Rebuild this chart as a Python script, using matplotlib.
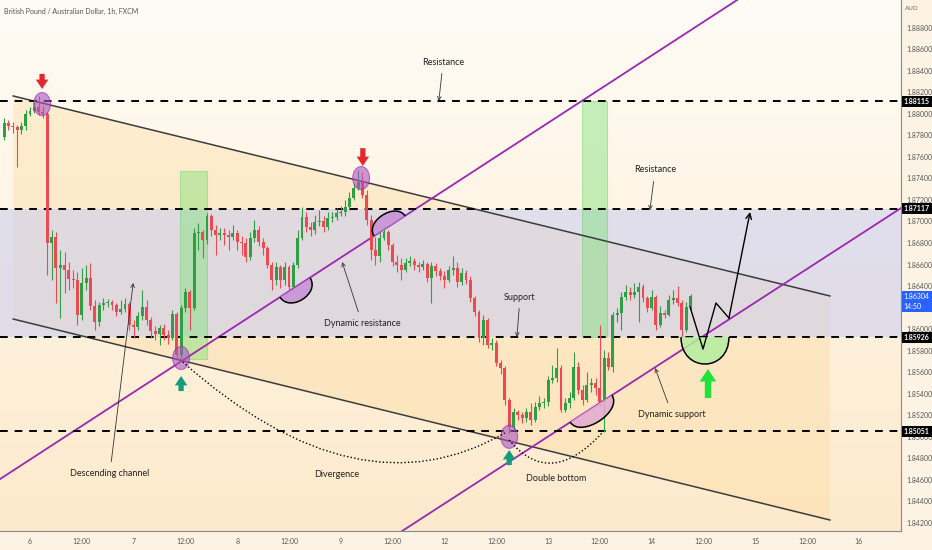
import numpy as np
import matplotlib.pyplot as plt
import matplotlib.transforms as mtransforms
from matplotlib.colors import LinearSegmentedColormap
from matplotlib.patches import Ellipse, Rectangle, Polygon, PathPatch
from matplotlib.path import Path

plt.rcParams['font.family'] = ['Lato', 'DejaVu Sans']

# ---- data (1h candles, bar 0 = day 6 00:00) ----
first_bar = -6
first_open = 1.87784
closes = [1.87914, 1.87886, 1.87877, 1.87849, 1.87886, 1.87998, 1.88025, 1.88063, 1.88016, 1.87998,
          1.86800, 1.86856, 1.86568, 1.86596, 1.86549, 1.86466, 1.86456, 1.86132, 1.86429, 1.86475,
          1.86215, 1.86067, 1.86225, 1.86243, 1.86252, 1.86225, 1.86160, 1.86187, 1.86234, 1.86039,
          1.86020, 1.86122, 1.86206, 1.86085, 1.85983, 1.85955, 1.86011, 1.85946, 1.85918, 1.86141,
          1.85760, 1.86197, 1.86345, 1.86197, 1.86893, 1.86902, 1.86828, 1.87051, 1.86921, 1.86874,
          1.86893, 1.86874, 1.86856, 1.86893, 1.86809, 1.86800, 1.86670, 1.86846, 1.86921, 1.86809,
          1.86754, 1.86596, 1.86456, 1.86577, 1.86456, 1.86577, 1.86392, 1.86596, 1.86846, 1.87041,
          1.86949, 1.86921, 1.86995, 1.87004, 1.86949, 1.87032, 1.87041, 1.87078, 1.87087, 1.87134,
          1.87218, 1.87310, 1.87366, 1.87245, 1.87013, 1.86735, 1.86679, 1.86846, 1.86902, 1.86781,
          1.86624, 1.86596, 1.86549, 1.86614, 1.86633, 1.86596, 1.86577, 1.86605, 1.86475, 1.86587,
          1.86540, 1.86494, 1.86456, 1.86549, 1.86568, 1.86438, 1.86522, 1.86456, 1.86290, 1.86160,
          1.85918, 1.86085, 1.85853, 1.85871, 1.85686, 1.85639, 1.85342, 1.85091, 1.85231, 1.85203,
          1.85175, 1.85231, 1.85157, 1.85277, 1.85314, 1.85324, 1.85528, 1.85546, 1.85639, 1.85249,
          1.85314, 1.85361, 1.85648, 1.85435, 1.85342, 1.85481, 1.85500, 1.85453, 1.85324, 1.85732,
          1.85648, 1.86132, 1.86150, 1.86299, 1.86345, 1.86317, 1.86345, 1.86392, 1.86290, 1.86197,
          1.86299, 1.86039, 1.86150, 1.86132, 1.86271, 1.86290, 1.86243, 1.85993, 1.86206, 1.86308]
highs = [1.87960, 1.87942, 1.87923, 1.87895, 1.87923, 1.88035, 1.88063, 1.88128, 1.88165, 1.88072,
         1.88016, 1.86921, 1.86902, 1.86735, 1.86716, 1.86624, 1.86549, 1.86531, 1.86568, 1.86596,
         1.86614, 1.86271, 1.86252, 1.86290, 1.86280, 1.86271, 1.86243, 1.86271, 1.86290, 1.86252,
         1.86085, 1.86160, 1.86364, 1.86271, 1.86113, 1.86030, 1.86039, 1.86048, 1.85993, 1.86178,
         1.86160, 1.86225, 1.86382, 1.86364, 1.86939, 1.86986, 1.86921, 1.87078, 1.87069, 1.86967,
         1.86939, 1.86939, 1.86921, 1.86967, 1.86921, 1.86865, 1.86846, 1.86902, 1.87013, 1.86958,
         1.86846, 1.86772, 1.86624, 1.86624, 1.86596, 1.86624, 1.86596, 1.86624, 1.86921, 1.87134,
         1.87087, 1.86995, 1.87060, 1.87106, 1.87051, 1.87087, 1.87087, 1.87125, 1.87143, 1.87199,
         1.87273, 1.87357, 1.87477, 1.87459, 1.87292, 1.87060, 1.86856, 1.86902, 1.86958, 1.86921,
         1.86800, 1.86688, 1.86661, 1.86661, 1.86679, 1.86661, 1.86624, 1.86642, 1.86624, 1.86624,
         1.86614, 1.86568, 1.86540, 1.86587, 1.86679, 1.86624, 1.86568, 1.86549, 1.86494, 1.86308,
         1.86178, 1.86132, 1.86104, 1.85918, 1.85899, 1.85713, 1.85658, 1.85361, 1.85268, 1.85249,
         1.85231, 1.85268, 1.85314, 1.85324, 1.85380, 1.85361, 1.85565, 1.85667, 1.85825, 1.85667,
         1.85361, 1.85416, 1.85788, 1.85695, 1.85481, 1.85602, 1.85546, 1.85546, 1.86039, 1.85806,
         1.85788, 1.86160, 1.86197, 1.86345, 1.86410, 1.86392, 1.86429, 1.86438, 1.86419, 1.86308,
         1.86364, 1.86317, 1.86215, 1.86178, 1.86317, 1.86364, 1.86401, 1.86271, 1.86252, 1.86327]
lows = [1.87756, 1.87849, 1.87821, 1.87505, 1.87812, 1.87849, 1.87979, 1.88007, 1.87988, 1.87960,
        1.86503, 1.86456, 1.86243, 1.86104, 1.86336, 1.86364, 1.86382, 1.86039, 1.86085, 1.86364,
        1.86178, 1.85993, 1.86030, 1.86178, 1.86206, 1.86178, 1.86122, 1.86141, 1.86160, 1.85993,
        1.85918, 1.85993, 1.86085, 1.86039, 1.85918, 1.85899, 1.85853, 1.85899, 1.85862, 1.85899,
        1.85713, 1.85732, 1.86160, 1.85993, 1.86178, 1.86735, 1.86661, 1.86791, 1.86865, 1.86688,
        1.86828, 1.86781, 1.86735, 1.86828, 1.86735, 1.86688, 1.86624, 1.86642, 1.86809, 1.86772,
        1.86688, 1.86568, 1.86364, 1.86410, 1.86382, 1.86410, 1.86345, 1.86364, 1.86568, 1.86828,
        1.86902, 1.86865, 1.86883, 1.86958, 1.86902, 1.86921, 1.86995, 1.87013, 1.87051, 1.87051,
        1.87106, 1.87199, 1.87292, 1.87218, 1.86967, 1.86642, 1.86596, 1.86624, 1.86828, 1.86735,
        1.86587, 1.86531, 1.86456, 1.86531, 1.86587, 1.86549, 1.86531, 1.86549, 1.86438, 1.86243,
        1.86494, 1.86456, 1.86382, 1.86438, 1.86503, 1.86392, 1.86410, 1.86419, 1.86252, 1.86122,
        1.85881, 1.85853, 1.85825, 1.85806, 1.85658, 1.85584, 1.85296, 1.85036, 1.85064, 1.85157,
        1.85129, 1.85138, 1.85110, 1.85138, 1.85249, 1.85268, 1.85286, 1.85500, 1.85509, 1.85231,
        1.85231, 1.85268, 1.85342, 1.85398, 1.85296, 1.85324, 1.85416, 1.85388, 1.85286, 1.85045,
        1.85620, 1.85602, 1.86067, 1.85993, 1.86271, 1.86271, 1.86290, 1.86067, 1.86252, 1.86160,
        1.86178, 1.85993, 1.86020, 1.86104, 1.86122, 1.86234, 1.86215, 1.85927, 1.85974, 1.86178]

tick_bars = [0, 12, 24, 36, 48, 60, 72, 84, 96, 108, 120, 132, 144, 156, 168, 180, 192]
tick_labels = ['6', '12:00', '7', '12:00', '8', '12:00', '9', '12:00', '12', '12:00',
               '13', '12:00', '14', '12:00', '15', '12:00', '16']
y_ticks = np.round(np.arange(1.842, 1.8881, 0.002), 3)
levels = [1.88115, 1.87117, 1.85926, 1.85051]
last_price = 1.86304
last_time = '14:50'

# drawings (bar index, price)
chan_upper = [(-3.9, 1.88165), (185.3, 1.86308)]
chan_lower = [(-3.9, 1.86094), (185.3, 1.84228)]
purple_1 = [(-6.95, 1.84608), (163.8, 1.89056)]
purple_2 = [(86.2, 1.84126), (201.8, 1.87125)]
green_boxes = [(34.7, 41.0, 1.85723, 1.87468), (127.9, 133.7, 1.85926, 1.88115)]
circles = [(2.8, 1.88090), (76.7, 1.87403), (35.0, 1.85732), (111.0, 1.85000)]
down_arrows = [(2.8, 1.88370, 1.88230), (77.1, 1.87680, 1.87515)]
up_arrows = [(35.0, 1.85425, 1.85565), (111.0, 1.84738, 1.84878)]
big_up_arrow = (157.05, 1.85360, 1.85630)
arcs = [
    ([(57.9, 1.86298), (60.2, 1.86152), (67.2, 1.86328), (64.9, 1.86475)], '#c58fd6'),
    ([(79.7, 1.86865), (77.5, 1.86999), (84.7, 1.87185), (86.9, 1.87050)], '#c58fd6'),
    ([(125.1, 1.85138), (127.6, 1.84982), (137.3, 1.85232), (134.8, 1.85388)], '#e2a9d2'),
    ([(150.8, 1.85926), (150.8, 1.85593), (161.9, 1.85593), (161.9, 1.85926)], '#b5ee9f'),
]
w_path = [(152.9, 1.86206), (155.9, 1.85815), (158.9, 1.86243), (161.9, 1.86103)]
w_arrow_end = (166.8, 1.87088)
dotted_curves = [[(35.4, 1.85695), (76.0, 1.84250), (110.0, 1.85036)],
                 [(111.0, 1.84971), (120.5, 1.84506), (132.7, 1.85045)]]
labels = [
    ('Resistance', (95.7, 1.88480), (94.7, 1.88118)),
    ('Resistance', (144.8, 1.87478), (143.6, 1.87106)),
    ('Support', (113.5, 1.86298), (112.8, 1.85927)),
    ('Dynamic resistance', (76.9, 1.86057), (72.3, 1.86623)),
    ('Descending channel', (18.5, 1.84664), (23.9, 1.86428)),
    ('Divergence', (71.1, 1.84655), None),
    ('Double bottom', (121.8, 1.84609), None),
    ('Dynamic support', (148.7, 1.85212), (144.8, 1.85639)),
]

x_min, x_max = -6.95, 201.76
y_min, y_max = 1.84126, 1.89056

fig = plt.figure(figsize=(9.32, 5.5), dpi=100)
fig.patch.set_facecolor('#fdf3e4')
ax = fig.add_axes([0, 19 / 550, 901 / 932, 531 / 550])
ax.set_xlim(x_min, x_max)
ax.set_ylim(y_min, y_max)

# background gradient
grad = np.linspace(0, 1, 256).reshape(-1, 1)
bg_cmap = LinearSegmentedColormap.from_list('bg', ['#fffcf6', '#fdeacc'])
ax.imshow(grad, extent=[x_min, x_max, y_min, y_max], origin='upper',
          aspect='auto', cmap=bg_cmap, zorder=0)

# channel fill
poly = [chan_upper[0], chan_upper[1], chan_lower[1], chan_lower[0]]
ax.add_patch(Polygon(poly, closed=True, fc='#fcd898', ec='none', alpha=0.35, zorder=1))
# support/resistance band
ax.axhspan(levels[2], levels[1], color='#cdd0f0', alpha=0.6, lw=0, zorder=1)

# channel lines
for ln in (chan_upper, chan_lower):
    ax.plot([ln[0][0], ln[1][0]], [ln[0][1], ln[1][1]], color='#3c3c3c', lw=1.1, zorder=3)

# purple trend lines
for ln in (purple_1, purple_2):
    ax.axline(ln[0], ln[1], color='#9c27b0', lw=1.3, zorder=3)

# dashed levels
for lv in levels:
    ax.axhline(lv, color='black', lw=1.4, ls=(0, (4, 3.5)), zorder=3)

# green boxes
for x0, x1, y0, y1 in green_boxes:
    ax.add_patch(Rectangle((x0, y0), x1 - x0, y1 - y0, fc='#7ee27a', ec='#6ad266',
                           alpha=0.45, lw=0.8, zorder=2))

# candles
bars = np.arange(first_bar, first_bar + len(closes))
opens = [first_open] + closes[:-1]
for b, o, h, l, c in zip(bars, opens, highs, lows, closes):
    col = '#2f9e44' if c >= o else '#ec4a52'
    ax.vlines(b, l, h, color=col, lw=0.8, zorder=4)
    body = max(abs(c - o), 0.00003)
    ax.add_patch(Rectangle((b - 0.34, min(o, c)), 0.68, body, fc=col, ec='none', zorder=4))

# purple circles
for bx, py in circles:
    ax.add_patch(Ellipse((bx, py), 3.9, 0.00214, fc='#a855c0', ec='#9c27b0',
                         alpha=0.6, lw=0.8, zorder=5))

# arrows
arrow_style = 'simple,head_width=1.0,head_length=0.75,tail_width=0.42'
for bx, t0, t1 in down_arrows:
    ax.annotate('', xy=(bx, t1), xytext=(bx, t0),
                arrowprops=dict(arrowstyle=arrow_style, fc='#e0282e', ec='none',
                                mutation_scale=9, shrinkA=0, shrinkB=0), zorder=6)
for bx, t0, t1 in up_arrows:
    ax.annotate('', xy=(bx, t1), xytext=(bx, t0),
                arrowprops=dict(arrowstyle=arrow_style, fc='#139c7c', ec='none',
                                mutation_scale=9, shrinkA=0, shrinkB=0), zorder=6)
bx, t0, t1 = big_up_arrow
ax.annotate('', xy=(bx, t1), xytext=(bx, t0),
            arrowprops=dict(arrowstyle='simple,head_width=1.0,head_length=0.75,tail_width=0.38',
                            fc='#1de33b', ec='none', mutation_scale=12,
                            shrinkA=0, shrinkB=0), zorder=6)

# arcs
for pts, fc in arcs:
    verts = pts + [pts[0]]
    codes = [Path.MOVETO, Path.CURVE4, Path.CURVE4, Path.CURVE4, Path.CLOSEPOLY]
    ax.add_patch(PathPatch(Path(verts, codes), fc=fc, ec='none', alpha=0.85, zorder=5))
    ax.add_patch(PathPatch(Path(pts, codes[:4]), fc='none', ec='black', lw=1.1, zorder=5))

# projected path
wx = [p[0] for p in w_path]
wy = [p[1] for p in w_path]
ax.plot(wx, wy, color='black', lw=1.0, zorder=6)
ax.annotate('', xy=w_arrow_end, xytext=w_path[-1],
            arrowprops=dict(arrowstyle='->', color='black', lw=1.0, shrinkA=0, shrinkB=0), zorder=6)

# dotted curves
for pts in dotted_curves:
    codes = [Path.MOVETO, Path.CURVE3, Path.CURVE3]
    ax.add_patch(PathPatch(Path(pts, codes), fc='none', ec='black', lw=1.0,
                           ls=(0, (1, 1.6)), zorder=5))

# text labels
for txt, pos, tip in labels:
    if tip is None:
        ax.text(pos[0], pos[1], txt, fontsize=6.5, ha='center', va='center', color='#222', zorder=7)
    else:
        ax.annotate(txt, xy=tip, xytext=pos, fontsize=6.5, ha='center', va='center', color='#222',
                    arrowprops=dict(arrowstyle='->', color='#333', lw=0.6, shrinkA=3, shrinkB=0),
                    zorder=7)

# axes styling
for s in ('top', 'left'):
    ax.spines[s].set_visible(False)
ax.spines['right'].set_color('#8a8a8a')
ax.spines['bottom'].set_color('#8a8a8a')
ax.yaxis.tick_right()
ax.set_yticks(y_ticks)
ax.set_yticklabels([f'{v:.5f}' for v in y_ticks])
ax.set_xticks(tick_bars)
ax.set_xticklabels(tick_labels)
ax.tick_params(axis='both', length=0, labelsize=5, colors='#555555')
ax.tick_params(axis='y', pad=4)
ax.tick_params(axis='x', pad=5)

# price tags on the axis
tr = mtransforms.blended_transform_factory(ax.transAxes, ax.transData)
for lv in levels:
    ax.text(1.003, lv, f'{lv:.5f}', transform=tr, fontsize=5, color='white', weight='bold',
            ha='left', va='center', clip_on=False, zorder=8,
            bbox=dict(boxstyle='square,pad=0.3', fc='black', ec='none'))
ax.text(1.003, last_price - 0.00045, f'{last_price:.5f}\n{last_time}', transform=tr, fontsize=5,
        color='white', ha='left', va='center', clip_on=False, zorder=8, linespacing=1.5,
        bbox=dict(boxstyle='square,pad=0.3', fc='#2962ff', ec='none'))

fig.text(4 / 932, 1 - 11 / 550, 'British Pound / Australian Dollar, 1h, FXCM', fontsize=5,
         color='#555555', ha='left', va='center')
fig.text(905 / 932, 1 - 9 / 550, 'AUD', fontsize=4.5, color='#666666', ha='left', va='center')

fig.savefig('out.png', dpi=100, facecolor=fig.get_facecolor())
